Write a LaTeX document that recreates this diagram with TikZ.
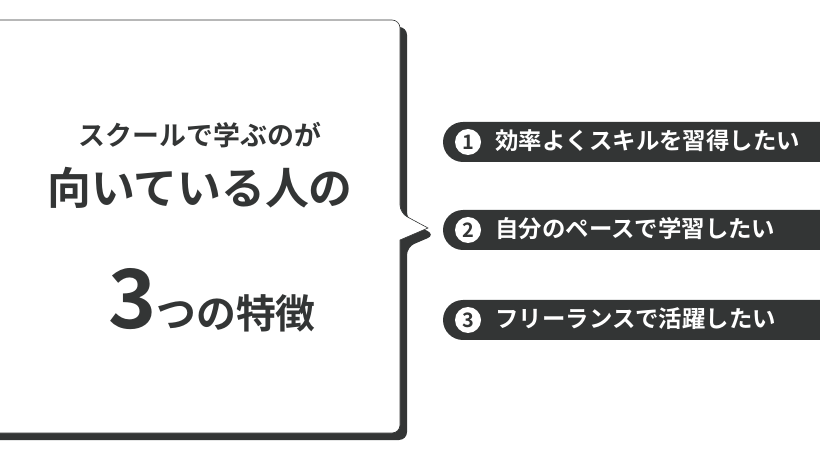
\documentclass[tikz,border=0pt]{standalone}
\usepackage{fontspec}
\setmainfont{Noto Sans CJK JP}[BoldFont={Noto Sans CJK JP Bold}]
\definecolor{ink}{HTML}{333535}
\tikzset{
  pill/.style={fill=ink, rounded corners=20bp},
  pilltext/.style={text=white, font=\bfseries\fontsize{23.5}{23.5}\selectfont, anchor=west},
  numdot/.style={circle, fill=white, text=ink, inner sep=0pt, minimum size=26bp, font=\bfseries\fontsize{20}{20}\selectfont}
}
\begin{document}
\begin{tikzpicture}[x=1bp, y=-1bp]
  \useasboundingbox (0,0) rectangle (820,460);
  % bubble shadow
  \fill[ink, rounded corners=8bp] (-10,27) -- (407,27) -- (407,220) -- (435,235) -- (407,247) -- (407,440) -- (-10,440) -- cycle;
  % bubble
  \draw[ink, fill=white, line width=0.6bp, rounded corners=8bp] (-10,20) -- (400,20) -- (400,213) [sharp corners] -- (428,228) -- (400,240) [rounded corners=8bp] -- (400,433) -- (-10,433) -- cycle;
  \node (lead) at (200,135) {\color{ink}\bfseries\fontsize{27}{27}\selectfont スクールで学ぶのが};
  \node (head) at (200,188) {\color{ink}\bfseries\fontsize{44}{44}\selectfont 向いている人の};
  \node (three) at (212,300) {\color{ink}\bfseries{\fontsize{82}{82}\selectfont 3}\fontsize{40}{40}\selectfont つの特徴};
  % reasons
  \foreach \y/\n/\t in {142/1/効率よくスキルを習得したい, 230/2/自分のペースで学習したい, 320/3/フリーランスで活躍したい}{
    \fill[pill] (443,\y-20) rectangle (860,\y+20);
    \node[numdot] (dot\n) at (468,\y) {\n};
    \node[pilltext] (reason\n) at (492,\y-1) {\t};
  }
\end{tikzpicture}
\end{document}
